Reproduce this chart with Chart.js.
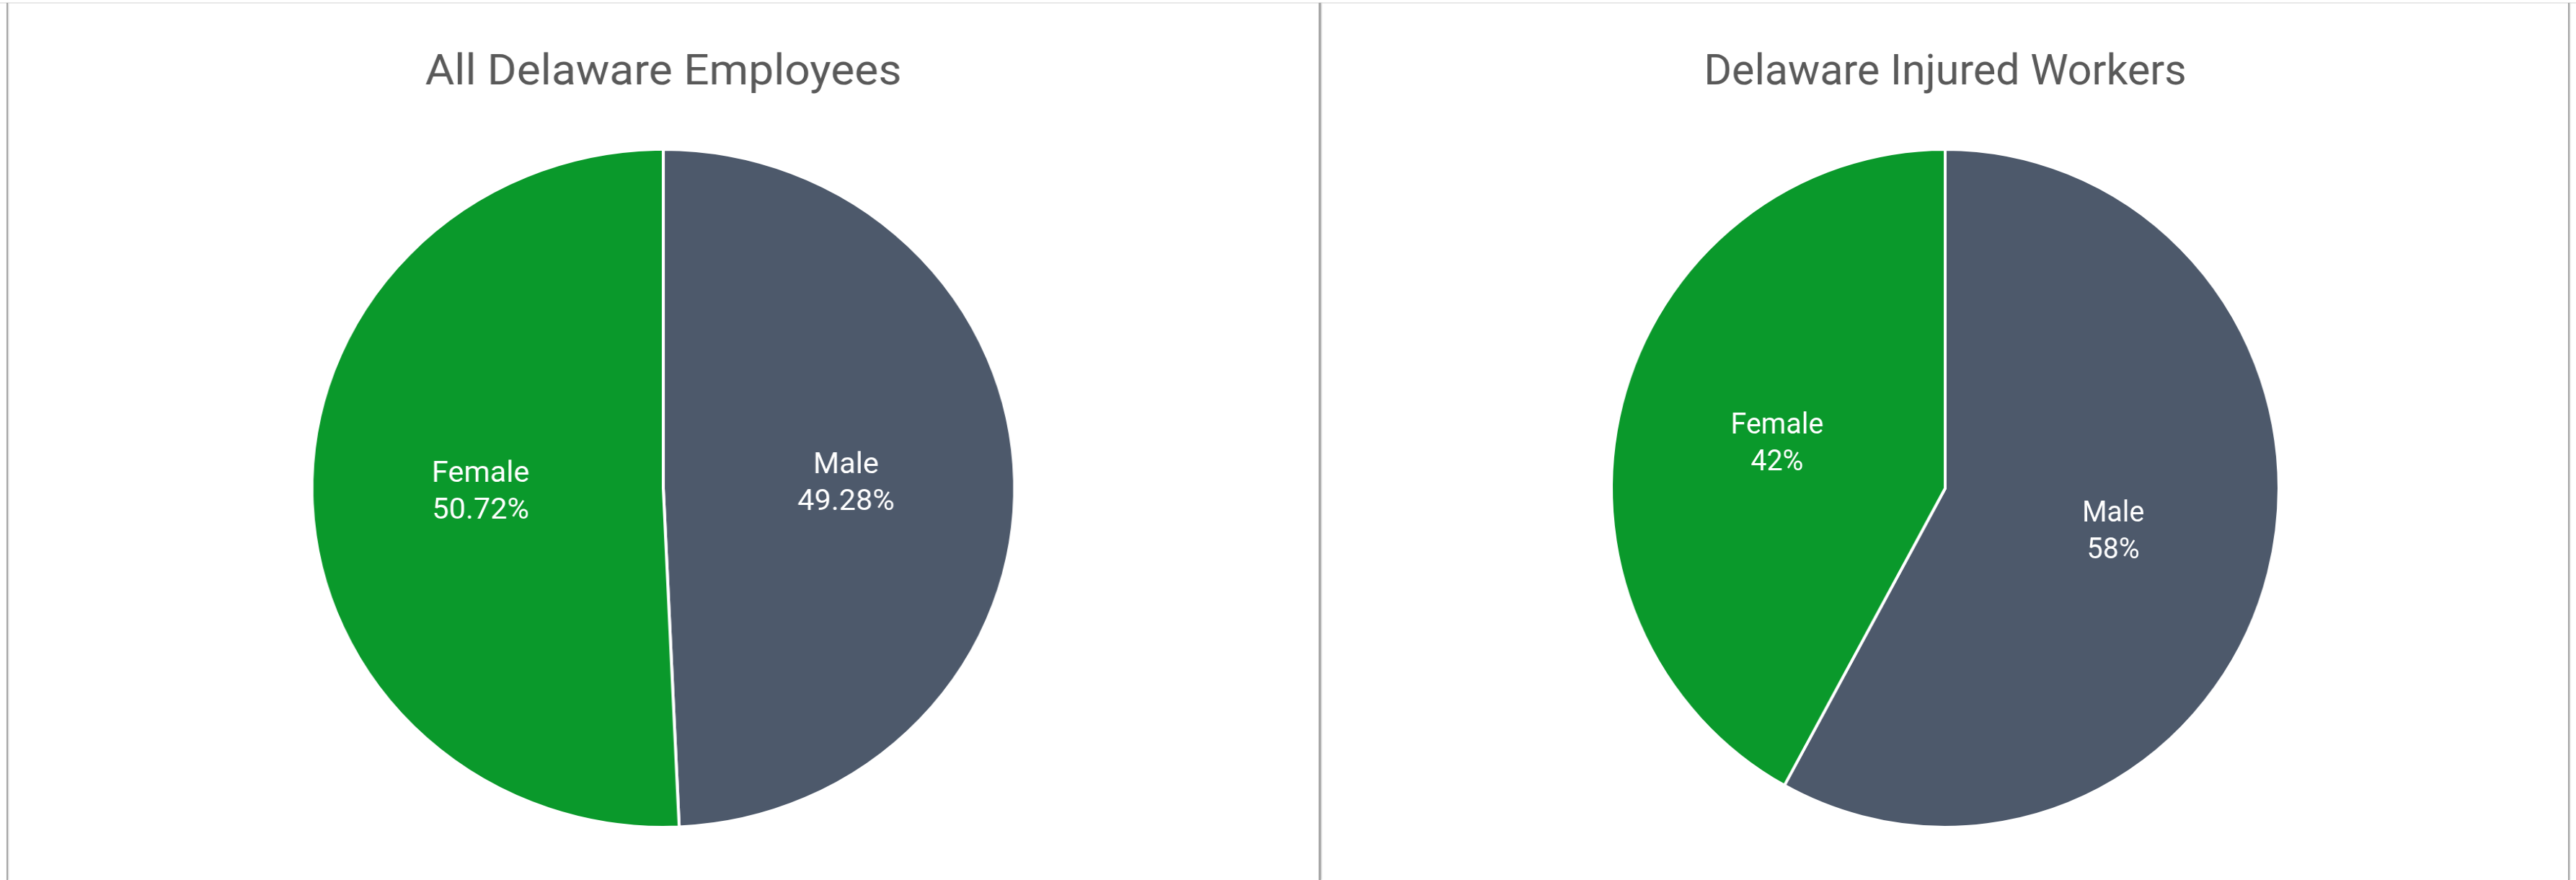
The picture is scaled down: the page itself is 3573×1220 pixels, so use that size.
<!DOCTYPE html>
<html>
<head>
<meta charset="utf-8">
<script src="https://cdn.jsdelivr.net/npm/chart.js@4"></script>
<style>
  body { margin: 0; background: #fff; }
  #wrap { position: relative; width: 3573px; height: 1220px; overflow: hidden; background: #fff; }
  .panel { position: absolute; top: 4px; }
  .rule { position: absolute; background: #a6a6a6; }
</style>
</head>
<body>
<div id="wrap">
  <canvas id="chart" class="panel" style="left:11px;transform:scaleX(1.037);transform-origin:909px 0" width="1818" height="1216"></canvas>
  <canvas id="chart2" class="panel" style="left:1834px;transform:scaleX(0.985);transform-origin:864px 0" width="1728" height="1216"></canvas>
  <div class="rule" style="left:0;top:3px;width:3573px;height:2px;background:#e8e8e8"></div>
  <div class="rule" style="left:9px;top:4px;width:2px;height:1216px;box-shadow:1px 0 2px #ccc"></div>
  <div class="rule" style="left:1829px;top:4px;width:3px;height:1216px;box-shadow:1px 0 2px #bbb"></div>
  <div class="rule" style="left:3562px;top:4px;width:2px;height:1216px;box-shadow:1px 0 2px #ccc"></div>
</div>
<script>
var categories = ["Male", "Female"];
var allEmployees = [49.28, 50.72];
var injuredWorkers = [58, 42];
var titles = ["All Delaware Employees", "Delaware Injured Workers"];
var decimals = [2, 0];

var colors = {
  Male: "#4d596b",
  Female: "#0a992b"
};

var font = "Roboto, 'Open Sans', sans-serif";

// draws "Name / xx%" in the middle of each slice
var sliceLabels = {
  id: "sliceLabels",
  afterDatasetsDraw(chart, args, opts) {
    var ctx = chart.ctx;
    var meta = chart.getDatasetMeta(0);
    var data = chart.data.datasets[0].data;
    meta.data.forEach(function (arc, i) {
      var mid = (arc.startAngle + arc.endAngle) / 2;
      var r = arc.outerRadius * opts.offset;
      var x = arc.x + Math.cos(mid) * r;
      var y = arc.y + Math.sin(mid) * r;
      ctx.save();
      ctx.fillStyle = "#fff";
      ctx.font = "40px " + font;
      ctx.textAlign = "center";
      ctx.textBaseline = "middle";
      ctx.fillText(chart.data.labels[i], x, y - 25);
      ctx.fillText(data[i].toFixed(opts.decimals) + "%", x, y + 26);
      ctx.restore();
    });
  }
};

function makePie(id, title, values, dec) {
  var ctx = document.getElementById(id).getContext("2d");
  return new Chart(ctx, {
    type: "pie",
    data: {
      labels: categories,
      datasets: [
        {
          data: values,
          backgroundColor: categories.map(function (c) { return colors[c]; }),
          borderColor: "#fff",
          borderWidth: 4
        }
      ]
    },
    options: {
      responsive: false,
      animation: false,
      devicePixelRatio: 1,
      layout: { padding: { top: 0, bottom: 71 } },
      plugins: {
        legend: { display: false },
        tooltip: { enabled: false },
        title: {
          display: true,
          text: title,
          color: "#595959",
          font: { family: font, size: 60, weight: "normal" },
          padding: { top: 62, bottom: 67 }
        },
        sliceLabels: { offset: 0.52, decimals: dec }
      }
    },
    plugins: [sliceLabels]
  });
}

var chart = makePie("chart", titles[0], allEmployees, decimals[0]);
var chart2 = makePie("chart2", titles[1], injuredWorkers, decimals[1]);
</script>
</body>
</html>
